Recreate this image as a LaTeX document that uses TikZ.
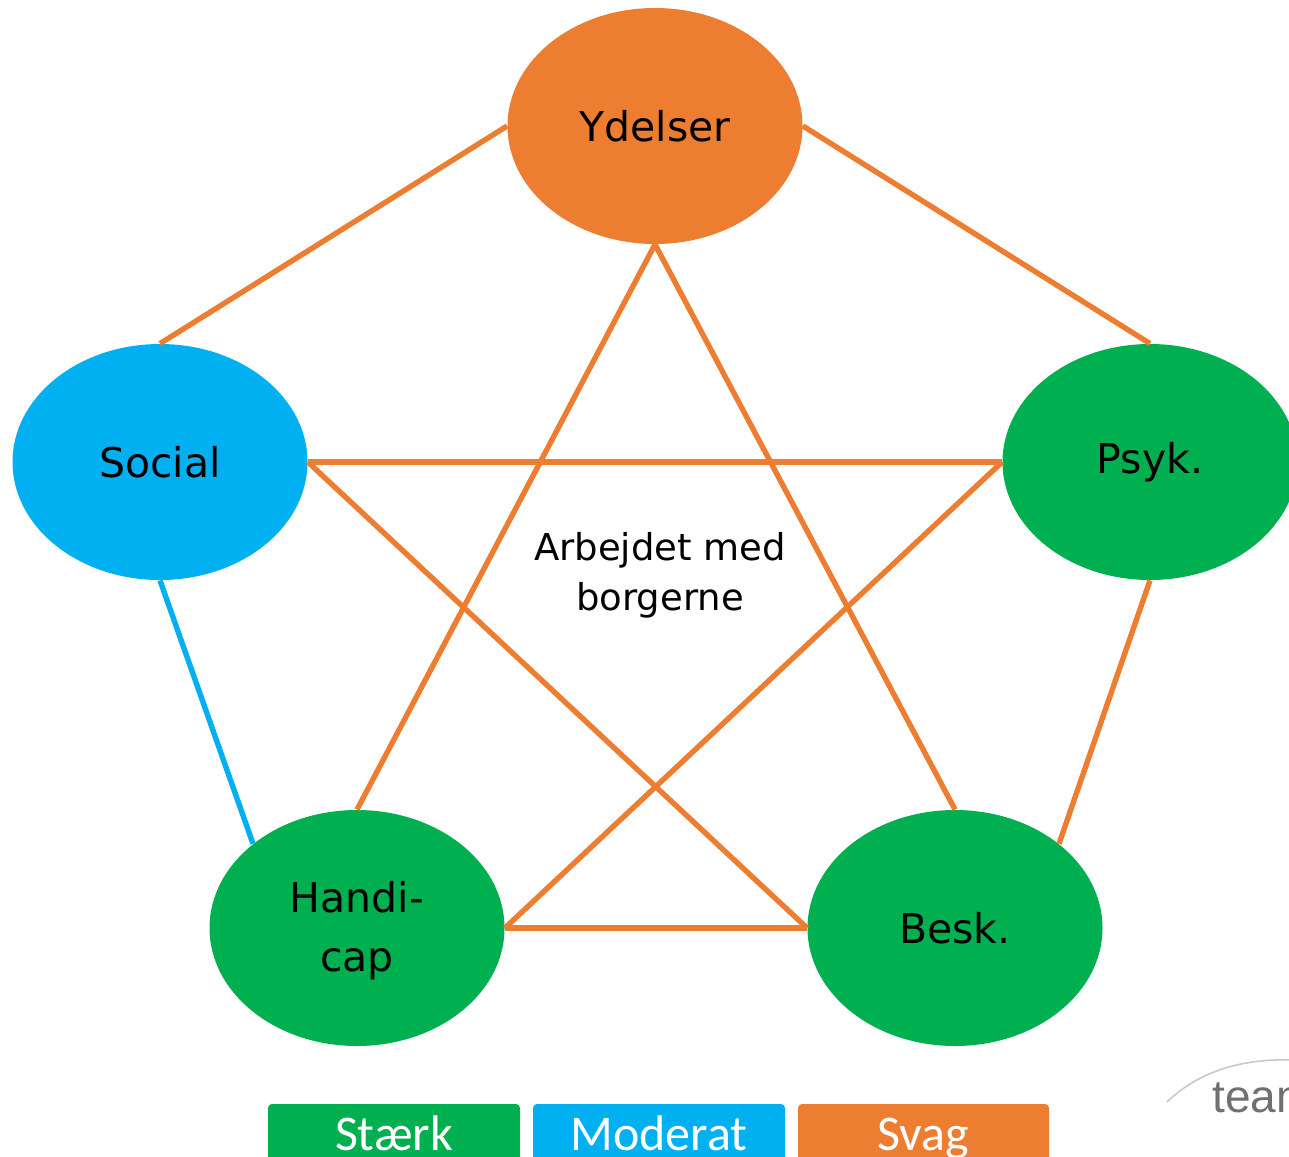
\documentclass[tikz,border=0pt]{standalone}
\usepackage{fontspec}
\setmainfont{DejaVu Sans}
\newfontfamily\legendfont{Carlito}
\newfontfamily\logofont{Liberation Sans}
\usetikzlibrary{shapes.geometric}
\definecolor{cOrange}{HTML}{ED7D31}
\definecolor{cGreen}{HTML}{00B050}
\definecolor{cBlue}{HTML}{00B0F0}
\definecolor{cGray}{HTML}{707070}
\definecolor{cArc}{HTML}{C8C8C8}
\tikzset{
  bubble/.style={ellipse, minimum width=147.5pt, minimum height=118pt, inner sep=0pt,
    font=\fontsize{20.5}{29.5}\selectfont, align=center},
  weak/.style={draw=cOrange, line width=2.7pt},
  moderate/.style={draw=cBlue, line width=2.7pt},
  legendbox/.style={rounded corners=2pt},
  legendtext/.style={text=white, font=\legendfont\fontsize{25}{25}\selectfont, anchor=base},
}
\begin{document}
\begin{tikzpicture}[x=0.5pt,y=-0.5pt]
\useasboundingbox (0,0) rectangle (1289,1156);
\clip (0,0) rectangle (1289,1156);
% nodes
\node[bubble, fill=cOrange] (Y) at (655,126) {Ydelser};
\node[bubble, fill=cBlue] (S) at (160,462) {Social};
\node[bubble, fill=cGreen] (P) at (1150,462) {Psyk.};
\node[bubble, fill=cGreen] (H) at (357,928) {};
\node[font=\fontsize{20.5}{29.5}\selectfont, align=center] (HT) at (357,931) {Handi-\\cap};
\node[bubble, fill=cGreen] (B) at (955,928) {Besk.};
\node[font=\fontsize{18.5}{25}\selectfont, align=center] (C) at (660,575) {Arbejdet med\\borgerne};
% connectors
\draw[weak] (Y.west) -- (S.north);
\draw[weak] (Y.east) -- (P.north);
\draw[weak] (Y.south) -- (H.north);
\draw[weak] (Y.south) -- (B.north);
\draw[weak] (S.east) -- (P.west);
\draw[weak] (S.east) -- (B.west);
\draw[weak] (P.west) -- (H.east);
\draw[weak] (H.east) -- (B.west);
\draw[weak] (P.south) -- (B.39);
\draw[moderate] (S.south) -- (H.141);
% legend
\fill[cGreen, legendbox] (268,1104) rectangle (520,1175);
\fill[cBlue, legendbox] (533,1104) rectangle (785,1175);
\fill[cOrange, legendbox] (798,1104) rectangle (1049,1175);
\node[legendtext] (L1) at (394,1150) {Stærk};
\node[legendtext] (L2) at (659,1150) {Moderat};
\node[legendtext] (L3) at (923,1150) {Svag};
% logo
\draw[cArc, line width=0.8pt] (1167,1102) .. controls (1200,1070) and (1245,1058) .. (1295,1060);
\node[anchor=base west, inner sep=0pt, text=cGray, font=\logofont\fontsize{23}{23}\selectfont] (T) at (1212,1112) {team};
\end{tikzpicture}
\end{document}
